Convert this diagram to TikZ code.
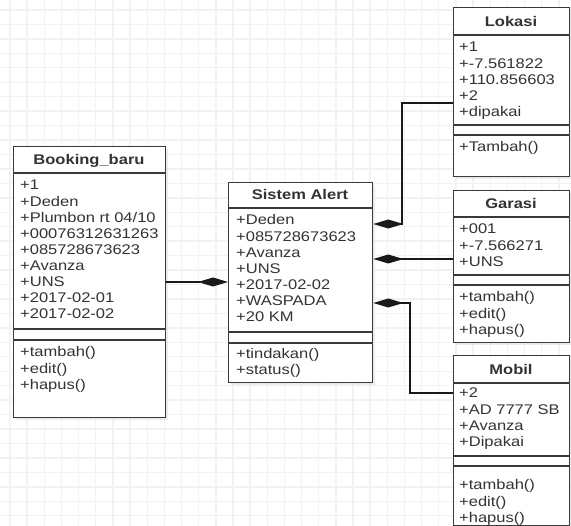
\documentclass[tikz,border=0pt]{standalone}
\usepackage{fontspec}
\setmainfont{Liberation Sans}[FakeStretch=1.18]
\usetikzlibrary{arrows.meta,calc,shadows}
\definecolor{ink}{HTML}{333333}
\definecolor{frame}{HTML}{3A3A3A}
\definecolor{gridc}{HTML}{F2F2F2}

% one text row per entry, baselines 16.1pt apart
\newcommand\umlrows[4]{%
  \foreach \t [count=\i from 0] in {#4}
    \node[attr] (#1\i) at (#2,{#3+16.1*\i}) {\t};}

\begin{document}
\begin{tikzpicture}[x=1pt,y=-1pt,
  classbox/.style={draw=frame, line width=1.3pt, fill=white, inner sep=0pt,
    anchor=north west,
    drop shadow={shadow xshift=2.5pt, shadow yshift=-2.5pt, fill=black!12, opacity=0.6}},
  sepline/.style={draw=frame, line width=1.2pt},
  gridline/.style={draw=gridc, line width=1.4pt},
  attr/.style={anchor=base west, inner sep=0pt, text=ink, font=\fontsize{14}{16}\selectfont},
  title/.style={anchor=base, inner sep=0pt, text=ink, font=\bfseries\fontsize{14}{16}\selectfont},
  comp/.style={draw=black!90, line width=1.2pt, -{Diamond[length=30pt,width=9pt]}}]

\useasboundingbox (0,0) rectangle (571,526);
\fill[white] (0,0) rectangle (571,526);

% background grid
\foreach \k in {0,...,32} \draw[gridline] ({10+17.15*\k},0) -- ({10+17.15*\k},526);
\foreach \k in {0,...,35} \draw[gridline] (0,{10+14.45*\k}) -- (571,{10+14.45*\k});

% class boxes
\node[classbox, minimum width=152pt, minimum height=271pt] (bk)  at (13,146) {};
\node[classbox, minimum width=144pt, minimum height=200pt] (sys) at (228,182) {};
\node[classbox, minimum width=116pt, minimum height=169pt] (lok) at (453,7) {};
\node[classbox, minimum width=116pt, minimum height=152pt] (gar) at (453,190) {};
\node[classbox, minimum width=116pt, minimum height=170pt] (mob) at (453,355) {};

% compartment separators: title / attributes / empty / operations
\foreach \b/\a/\c/\d in {bk/27/183/194, sys/26/150/161, lok/28/118/128, gar/27/85/95, mob/28/101/111}{
  \draw[sepline] ($(\b.north west)+(0,\a)$) -- ($(\b.north east)+(0,\a)$);
  \draw[sepline] ($(\b.north west)+(0,\c)$) -- ($(\b.north east)+(0,\c)$);
  \draw[sepline] ($(\b.north west)+(0,\d)$) -- ($(\b.north east)+(0,\d)$);
}

% Booking_baru
\node[title] (bk-t) at (89,165) {Booking\_baru};
\umlrows{bk-a}{20}{190}{+1,+Deden,+Plumbon rt 04/10,+00076312631263,+085728673623,+Avanza,+UNS,+2017-02-01,+2017-02-02}
\umlrows{bk-m}{20}{357}{+tambah(),+edit(),+hapus()}

% Sistem Alert
\node[title] (sys-t) at (300,200) {Sistem Alert};
\umlrows{sys-a}{236}{225}{+Deden,+085728673623,+Avanza,+UNS,+2017-02-02,+WASPADA,+20 KM}
\umlrows{sys-m}{236}{358.5}{+tindakan(),+status()}

% Lokasi
\node[title] (lok-t) at (511,27) {Lokasi};
\umlrows{lok-a}{459}{52}{+1,+-7.561822,+110.856603,+2,+dipakai}
\umlrows{lok-m}{459}{152}{+Tambah()}

% Garasi
\node[title] (gar-t) at (511,209) {Garasi};
\umlrows{gar-a}{459}{234}{+001,+-7.566271,+UNS}
\umlrows{gar-m}{459}{302}{+tambah(),+edit(),+hapus()}

% Mobil
\node[title] (mob-t) at (511,374.5) {Mobil};
\umlrows{mob-a}{459}{398}{+2,+AD 7777 SB,+Avanza,+Dipakai}
\umlrows{mob-m}{459}{490}{+tambah(),+edit(),+hapus()}

% composition connectors (diamond at Sistem Alert)
\coordinate (j1) at (402,103);
\coordinate (j3) at (410,393);
\draw[comp] ($(bk.north east)+(0,136)$) -- ($(sys.north west)+(0,100)$);
\draw[comp] ($(lok.north west)+(0,96)$) -- (j1) |- ($(sys.north east)+(0,42)$);
\draw[comp] ($(gar.north west)+(0,69)$) -- ($(sys.north east)+(0,77)$);
\draw[comp] ($(mob.north west)+(0,38)$) -- (j3) |- ($(sys.north east)+(0,121)$);

\end{tikzpicture}
\end{document}
